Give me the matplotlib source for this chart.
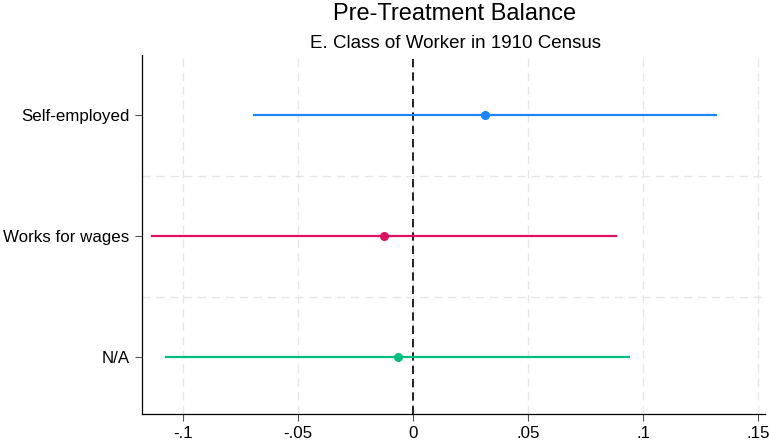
import matplotlib
matplotlib.use('Agg')
import matplotlib.pyplot as plt

plt.rcParams['font.family'] = ['Liberation Sans', 'DejaVu Sans']

# estimates
categories = ['Self-employed', 'Works for wages', 'N/A']
estimates = [0.0313, -0.0126, -0.0065]
ci_low = [-0.0691, -0.1135, -0.1074]
ci_high = [0.1317, 0.0883, 0.0939]
colors = ['#1a85ff', '#e0115f', '#00bf7f']
xticks = [-0.1, -0.05, 0, 0.05, 0.1, 0.15]
xtick_labels = ['-.1', '-.05', '0', '.05', '.1', '.15']

fig = plt.figure(figsize=(7.69, 4.46), dpi=100)
ax = fig.add_axes([141.5 / 769, 1 - 414 / 446, (765 - 141.5) / 769, (414 - 55) / 446])

ypos = list(range(1, len(categories) + 1))

for x in xticks:
    ax.axvline(x, color='#e6e6e6', lw=1, ls=(0, (6, 4)), zorder=0)
for y in [1.5, 2.5]:
    ax.axhline(y, color='#e6e6e6', lw=1, ls=(0, (6, 4)), zorder=0)

ax.axvline(0, color='black', lw=1.2, ls=(0, (5, 3)), zorder=1)

for y, est, lo, hi, c in zip(ypos, estimates, ci_low, ci_high, colors):
    ax.plot([lo, hi], [y, y], color=c, lw=1.6, zorder=2)
    ax.plot(est, y, 'o', color=c, ms=5.5, zorder=3)

ax.set_xlim(-0.118, 0.153)
ax.set_ylim(3.47, 0.5)
ax.set_yticks(ypos)
ax.set_yticklabels(categories, fontsize=12.2)
ax.set_xticks(xticks)
ax.set_xticklabels(xtick_labels, fontsize=12.2)
ax.tick_params(axis='both', length=5, width=0.8, color='#555555')

for s in ['top', 'right']:
    ax.spines[s].set_visible(False)
for s in ['left', 'bottom']:
    ax.spines[s].set_linewidth(0.9)

fig.text(455 / 769, 1 - 14 / 446, 'Pre-Treatment Balance', ha='center', va='center', fontsize=17)
fig.text(455 / 769, 1 - 44 / 446, 'E. Class of Worker in 1910 Census', ha='center', va='center', fontsize=13.5)

fig.savefig('out.png', dpi=100)
